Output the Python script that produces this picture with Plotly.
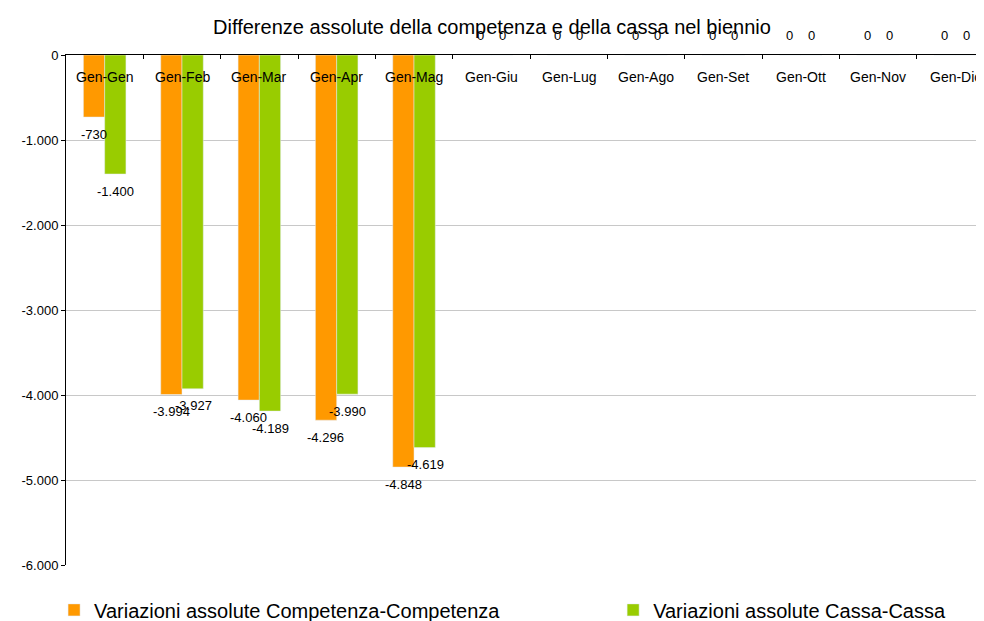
import plotly.graph_objects as go

categorie = ["Gen-Gen", "Gen-Feb", "Gen-Mar", "Gen-Apr", "Gen-Mag", "Gen-Giu",
             "Gen-Lug", "Gen-Ago", "Gen-Set", "Gen-Ott", "Gen-Nov", "Gen-Dic"]
competenza = [-730, -3994, -4060, -4296, -4848, 0, 0, 0, 0, 0, 0, 0]
cassa = [-1400, -3927, -4189, -3990, -4619, 0, 0, 0, 0, 0, 0, 0]
y_ticks = [0, -1000, -2000, -3000, -4000, -5000, -6000]

ARANCIO = "#FF9900"
VERDE = "#99CC00"
FONT = "Liberation Sans, Arial, sans-serif"

# la pagina aggiunge 8px di margine al body: la figura e' piu' piccola di conseguenza
W, H = 976, 613


def fmt(v):
    # formato italiano: punto per le migliaia
    return f"{v:,}".replace(",", ".")


fig = go.Figure()
fig.add_trace(go.Bar(x=categorie, y=competenza, name="Variazioni assolute Competenza-Competenza",
                     marker_color=ARANCIO, legend="legend"))
fig.add_trace(go.Bar(x=categorie, y=cassa, name="Variazioni assolute Cassa-Cassa",
                     marker_color=VERDE, legend="legend2"))

# etichette dei valori, sotto la barra (o sopra l'asse quando il valore e' zero)
for serie, dx in ((competenza, -11), (cassa, 11)):
    for cat, v in zip(categorie, serie):
        fig.add_annotation(x=cat, y=v, text=fmt(v), showarrow=False,
                           xshift=dx, yshift=-17 if v else 20,
                           font=dict(size=13, color="#000000", family=FONT))

# etichette delle categorie appena sotto la linea dello zero
for cat in categorie:
    fig.add_annotation(x=cat, y=0, text=cat, showarrow=False, yshift=-22,
                       font=dict(size=14, color="#000000", family=FONT))

legend_style = dict(orientation="h", yanchor="middle", y=-0.088, xanchor="left",
                    font=dict(size=20, color="#000000"), itemwidth=30,
                    bgcolor="rgba(0,0,0,0)")

fig.update_layout(
    width=W, height=H,
    margin=dict(l=58, r=0, t=47, b=56, autoexpand=False),
    paper_bgcolor="white", plot_bgcolor="white",
    font=dict(family=FONT, color="#000000"),
    barmode="group", bargap=0.45, bargroupgap=0,
    title=dict(text="Differenze assolute della competenza e della cassa nel biennio",
               x=484 / W, xref="container", xanchor="center",
               y=1 - 19 / H, yref="container", yanchor="middle",
               font=dict(size=20, color="#000000")),
    showlegend=True,
    legend=dict(legend_style, x=-0.013),
    legend2=dict(legend_style, x=0.596),
)
fig.update_xaxes(
    side="top", range=[-0.5, 11.37], automargin=False,
    showline=True, linecolor="#000000", linewidth=1,
    ticks="inside", ticklen=4, tickcolor="#000000", tickson="boundaries",
    showticklabels=False, showgrid=False, fixedrange=True,
)
fig.update_yaxes(
    range=[-6000, 0], tickvals=y_ticks, ticktext=[fmt(v) for v in y_ticks],
    automargin=False,
    showline=True, linecolor="#000000", linewidth=1,
    ticks="outside", ticklen=4, tickcolor="#000000",
    tickfont=dict(size=13, color="#000000"),
    showgrid=True, gridcolor="#C8C8C8", gridwidth=1, zeroline=False,
)

fig.write_html("out.html")
